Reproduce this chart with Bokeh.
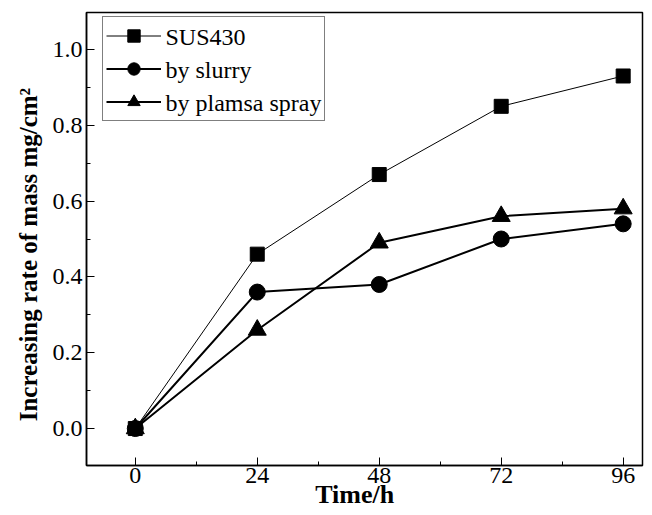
from bokeh.plotting import figure
from bokeh.models import Range1d, FixedTicker, Legend, LegendItem, ColumnDataSource, Label
from bokeh.embed import file_html
from bokeh.resources import INLINE

time_h = [0, 24, 48, 72, 96]
sus430 = [0.0, 0.46, 0.67, 0.85, 0.93]
slurry = [0.0, 0.36, 0.38, 0.50, 0.54]
plasma = [0.0, 0.26, 0.49, 0.56, 0.58]
series_names = ["SUS430", "by slurry", "by plamsa spray"]

x_ticks = [0, 24, 48, 72, 96]
x_minor = [12, 36, 60, 84]
y_ticks = [0.0, 0.2, 0.4, 0.6, 0.8, 1.0]
y_minor = [-0.1, 0.1, 0.3, 0.5, 0.7, 0.9]

FONT = "Liberation Serif"
NB = "\u00a0"

p = figure(width=644, height=515, output_backend="svg", toolbar_location=None,
           x_range=Range1d(-9.6, 99.8), y_range=Range1d(-0.0975, 1.0975),
           min_border_left=86, min_border_right=2, min_border_top=12, min_border_bottom=50)
p.grid.visible = False
p.background_fill_color = "white"
p.border_fill_color = "white"
p.outline_line_color = "black"
p.outline_line_width = 1.5

for ax in (p.xaxis[0], p.yaxis[0]):
    ax.major_tick_in = 8
    ax.major_tick_out = 0
    ax.minor_tick_in = 4
    ax.minor_tick_out = 0
    ax.axis_line_color = "black"
    ax.axis_line_width = 1.5
    ax.major_tick_line_color = "black"
    ax.minor_tick_line_color = "black"
    ax.major_label_text_font = FONT
    ax.major_label_text_font_size = "24px"
    ax.major_label_text_color = "black"
    ax.axis_label_text_font = FONT
    ax.axis_label_text_font_style = "bold"
    ax.axis_label_text_color = "black"

p.xaxis[0].major_label_standoff = 2
p.yaxis[0].major_label_standoff = 4
p.xaxis[0].axis_label_text_font_size = "26px"
p.yaxis[0].axis_label_text_font_size = "25px"
p.xaxis[0].ticker = FixedTicker(ticks=x_ticks, minor_ticks=x_minor)
p.yaxis[0].ticker = FixedTicker(ticks=y_ticks, minor_ticks=y_minor)
p.yaxis[0].major_label_overrides = {v: f"{v:.1f}" for v in y_ticks}
p.xaxis[0].axis_label = "Time/h" + NB * 3
p.yaxis[0].axis_label = "Increasing rate of mass mg/cm\u00b2" + NB * 5
p.xaxis[0].axis_label_standoff = -6
p.yaxis[0].axis_label_standoff = 8

src = ColumnDataSource(dict(t=time_h, a=sus430, b=slurry, c=plasma))

l1 = p.line("t", "a", source=src, line_color="black", line_width=1)
m1 = p.scatter("t", "a", source=src, marker="square", size=14, fill_color="black", line_color="black")
l2 = p.line("t", "b", source=src, line_color="black", line_width=2)
m2 = p.scatter("t", "b", source=src, marker="circle", size=16, fill_color="black", line_color="black")
l3 = p.line("t", "c", source=src, line_color="black", line_width=2)
m3 = p.scatter("t", "c", source=src, marker="triangle", size=18, fill_color="black", line_color="black")

# legend box (glyphs drawn by Legend; serif labels overlaid as Labels)
frame_h = 515 - 12 - 50
leg_x, leg_top = 16, 6
pad, row_h, gap, glyph_w, standoff, lab_w = 3, 31, 2, 55, 4, 156
leg_h = 2 * pad + 3 * row_h + 2 * gap

legend = Legend(items=[
    LegendItem(label=" ", renderers=[l1, m1]),
    LegendItem(label=" ", renderers=[l2, m2]),
    LegendItem(label=" ", renderers=[l3, m3]),
], location=(leg_x, frame_h - leg_top - leg_h))
legend.label_text_font_size = "8px"
legend.label_text_alpha = 0
legend.border_line_color = "black"
legend.border_line_width = 1
legend.background_fill_alpha = 0
legend.glyph_width = glyph_w
legend.glyph_height = row_h
legend.label_height = row_h
legend.label_width = lab_w
legend.spacing = gap
legend.padding = pad
legend.margin = 0
legend.label_standoff = standoff
p.add_layout(legend, "center")

for i, name in enumerate(series_names):
    cy = frame_h - leg_top - pad - row_h / 2 - i * (row_h + gap)
    p.add_layout(Label(x=leg_x + pad + glyph_w + standoff + 1, y=cy,
                       x_units="screen", y_units="screen", text=name,
                       text_font="serif", text_font_size="24px", text_color="black",
                       text_baseline="middle", text_align="left", level="overlay"), "center")

open("out.html", "w").write(file_html(p, INLINE))
